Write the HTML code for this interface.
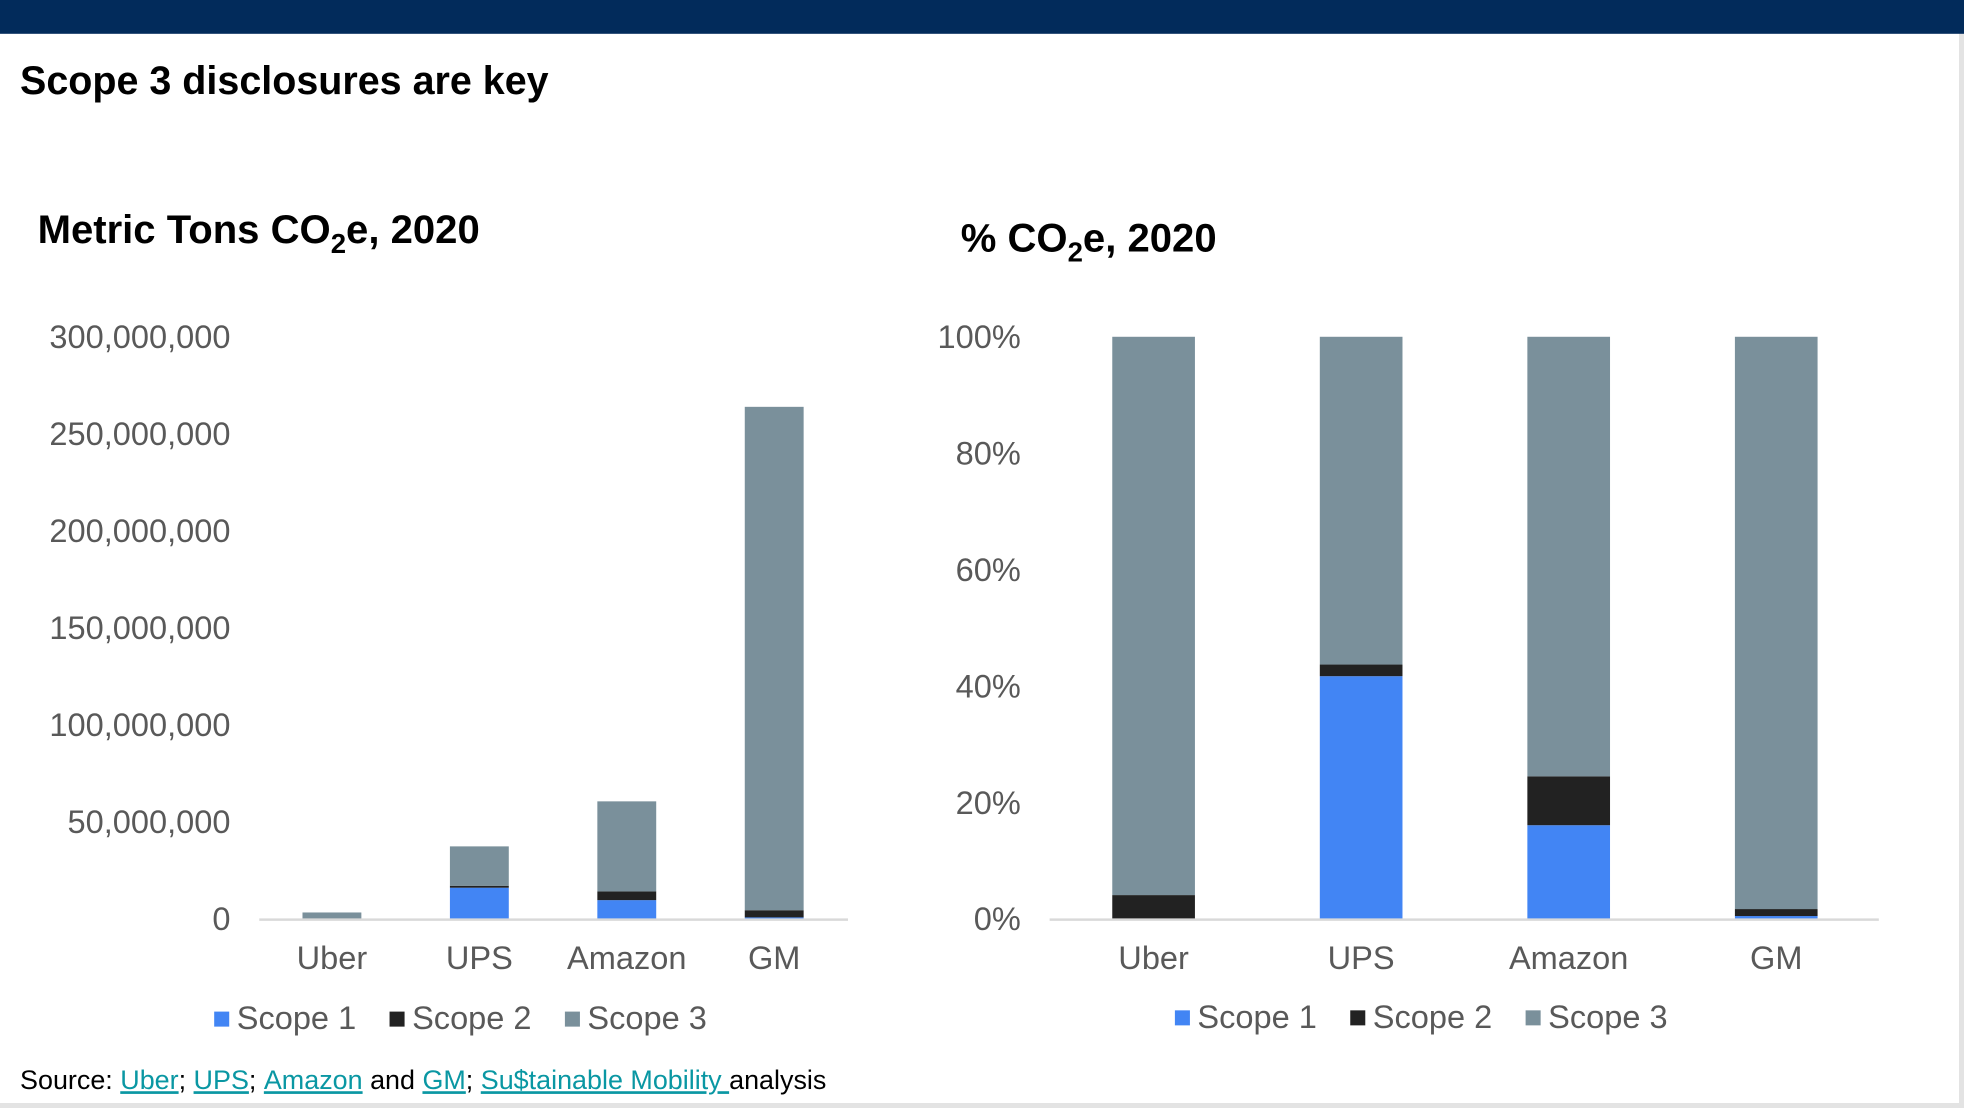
<!DOCTYPE html>
<html><head><meta charset="utf-8"><style>
html,body{margin:0;padding:0;background:#fff;}
svg{display:block;}
text{font-family:"Liberation Sans Narrow","Liberation Sans",sans-serif;}
</style></head><body>
<svg id="c" width="1964" height="1108" viewBox="0 0 1568 885" preserveAspectRatio="none">
<rect x="0" y="0" width="1568" height="885" fill="#e3e3e3"/>
<rect x="0" y="0" width="1564" height="881" fill="#fff"/>
<rect x="0" y="0" width="1568" height="27" fill="#022b5b"/>
<text x="16" y="75" font-size="32" font-weight="bold" fill="#000" textLength="422" lengthAdjust="spacingAndGlyphs">Scope 3 disclosures are key</text>
<text x="30" y="194" font-size="32" font-weight="bold" fill="#000">Metric Tons CO<tspan font-size="22" dy="8">2</tspan><tspan dy="-8">e, 2020</tspan></text>
<text x="767" y="201" font-size="32" font-weight="bold" fill="#000">% CO<tspan font-size="22" dy="8">2</tspan><tspan dy="-8">e, 2020</tspan></text>
<g id="left"></g>
<g id="right"></g>
<text x="16" y="870" font-size="21.5" fill="#000" font-family="Liberation Sans, sans-serif">Source: <tspan fill="#0a97a3" text-decoration="underline">Uber</tspan>; <tspan fill="#0a97a3" text-decoration="underline">UPS</tspan>; <tspan fill="#0a97a3" text-decoration="underline">Amazon</tspan> and <tspan fill="#0a97a3" text-decoration="underline">GM</tspan>; <tspan fill="#0a97a3" text-decoration="underline">Su$tainable Mobility </tspan>analysis</text>
</svg>
<script>
const categories = ["Uber", "UPS", "Amazon", "GM"];
const seriesNames = ["Scope 1", "Scope 2", "Scope 3"];
const tonsScope1 = [10000, 16100000, 9700000, 800000];
const tonsScope2 = [130000, 1000000, 4500000, 3700000];
const tonsScope3 = [3200000, 20300000, 46400000, 259400000];
const pctScope1 = [0, 41.7, 16.1, 0.5];
const pctScope2 = [4.1, 2.0, 8.4, 1.2];
const pctScope3 = [95.9, 56.3, 75.5, 98.3];
const tonsTicks = [0, 50000000, 100000000, 150000000, 200000000, 250000000, 300000000];
const pctTicks = [0, 20, 40, 60, 80, 100];
const colors = ["#4285f4", "#222222", "#7a909b"];
const NS = "http://www.w3.org/2000/svg";
function mk(tag, attrs, parent){const e=document.createElementNS(NS,tag);for(const k in attrs)e.setAttribute(k,attrs[k]);parent.appendChild(e);return e;}
function drawChart(g, o){
  const y = v => o.y0 - (v - 0)/(o.max) * (o.y0 - o.y1);
  const x = i => o.c0 + i*o.step;
  o.ticks.forEach((t)=>{
    const tx=mk("text",{x:o.labelX,y:y(t)+9,"font-size":26,fill:"#595959","text-anchor":"end","font-family":"Liberation Sans, sans-serif"},g);
    
    
    tx.textContent=o.fmt(t);
  });
  const series=[o.s1,o.s2,o.s3];
  categories.forEach((c,i)=>{
    let base=0;
    series.forEach((s,k)=>{
      const top=base+s[i];
      const r=mk("rect",{x:x(i)-o.bw/2,y:y(top),width:o.bw,height:Math.max(0,y(base)-y(top)),fill:colors[k]},g);
      
      
      base=top;
    });
    const t=mk("text",{x:x(i),y:774,"font-size":26,fill:"#595959","text-anchor":"middle","font-family":"Liberation Sans, sans-serif"},g);
    
    
    t.textContent=c;
  });
  const ax=mk("line",{x1:o.ax0,x2:o.ax1,y1:o.y0+0.5,y2:o.y0+0.5,stroke:"#d9d9d9","stroke-width":2},g);
  
  
  const lg=mk("g",{},g);
  
  
  seriesNames.forEach((n,k)=>{
    const sx=o.legX+k*140;
    const r=mk("rect",{x:sx,y:o.legY-14,width:12,height:12,fill:colors[k]},lg);
    
    
    const t=mk("text",{x:sx+18,y:o.legY,"font-size":26,fill:"#595959","font-family":"Liberation Sans, sans-serif"},lg);
    
    
    t.textContent=n;
  });
}
drawChart(document.getElementById("left"),{y0:734,y1:269,max:300000000,c0:265,step:117.7,bw:47,labelX:184,ax0:207,ax1:677,ticks:tonsTicks,fmt:v=>v.toLocaleString("en-US"),s1:tonsScope1,s2:tonsScope2,s3:tonsScope3,legX:171,legY:822});
drawChart(document.getElementById("right"),{y0:734,y1:269,max:100,c0:921,step:165.7,bw:66,labelX:815,ax0:838,ax1:1500,ticks:pctTicks,fmt:v=>v+"%",s1:pctScope1,s2:pctScope2,s3:pctScope3,legX:938,legY:821});
</script>
</body></html>
